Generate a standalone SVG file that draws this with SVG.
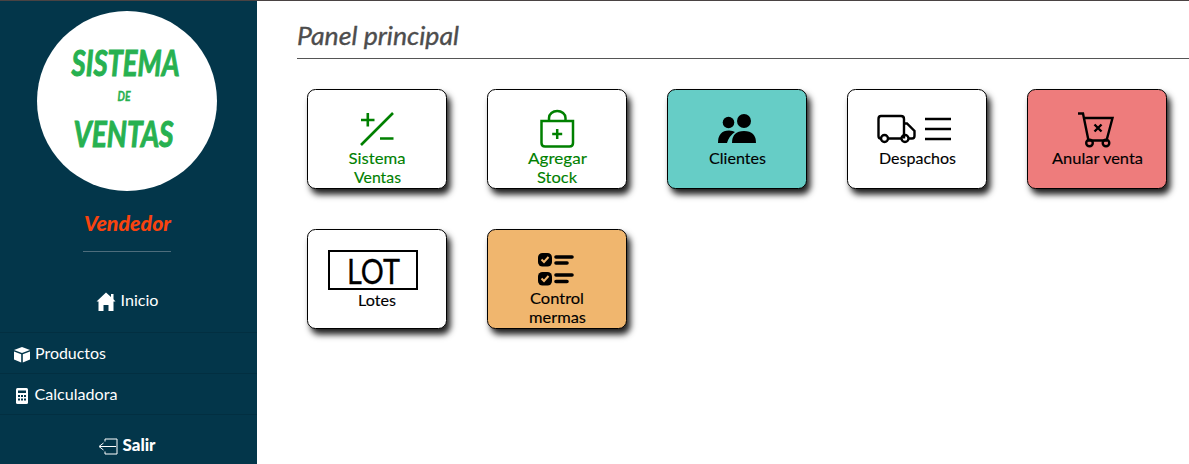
<svg xmlns="http://www.w3.org/2000/svg" width="1189" height="464" viewBox="0 0 1189 464">
<style>
text{font-family:Lato,"Open Sans","Liberation Sans",sans-serif}
.nav{font-size:16px;fill:#fff}
.lab{font-size:16px;text-anchor:middle;fill:#000;stroke:#000;stroke-width:.12;paint-order:stroke}
.g{fill:#008000;stroke:#008000}
.btn{stroke:#000;stroke-width:1}
.logo{font-weight:700;font-style:italic;fill:#27b150;stroke:#27b150;stroke-width:1;text-anchor:middle}
.ln{fill:none;stroke:#000;stroke-width:2.4}
.sep{fill:none;stroke:#022f41;stroke-width:1}
</style>
<defs>
<filter id="sh" x="-20%" y="-20%" width="150%" height="150%"><feDropShadow dx="3.500" dy="5.500" stdDeviation="3.100" flood-color="#000" flood-opacity="0.88"/></filter>
</defs>
<rect width="1189" height="464" fill="#fff"/>
<rect id="sidebar" x="0" y="0" width="257" height="464" fill="#03364a"/>
<rect id="topbar" x="0" y="0" width="1189" height="1" fill="#4a4343"/>
<g id="logo">
<circle cx="127" cy="101" r="90" fill="#fff"/>
<text class="logo" x="125.500" y="75.500" font-size="37" textLength="108" lengthAdjust="spacingAndGlyphs">SISTEMA</text>
<text class="logo" x="124" y="101" font-size="13" textLength="13" lengthAdjust="spacingAndGlyphs" style="stroke-width:.4">DE</text>
<text class="logo" x="123.500" y="147" font-size="37" textLength="100" lengthAdjust="spacingAndGlyphs">VENTAS</text>
</g>
<text id="role" x="127.500" y="231" font-size="20" font-weight="900" font-style="italic" fill="#f9430e" text-anchor="middle" textLength="87" lengthAdjust="spacingAndGlyphs">Vendedor</text>
<rect x="83" y="251" width="88" height="1" fill="#4e6d7c"/>
<g id="nav-inicio">
<path d="M106 292.500 L111 297 V294 H113.500 V299.200 L115.500 301.500 H113.500 V311 H108.500 V305 H103.500 V311 H98.500 V301.500 H96.500 Z" fill="#fff"/>
<text class="nav" x="120.500" y="306" textLength="38" lengthAdjust="spacingAndGlyphs">Inicio</text>
</g>
<g id="nav-productos">
<path class="sep" d="M0 332.500 H257 M0 373.500 H257 M0 414.500 H257"/>
<path d="M22 347 L30 350 L22 353 L14 350 Z" fill="#fff"/>
<path d="M14 351.500 L21.200 354.200 V362.500 L14 359.500 Z M30 351.500 L22.800 354.200 V362.500 L30 359.500 Z" fill="#fff"/>
<text class="nav" x="35" y="359" textLength="71" lengthAdjust="spacingAndGlyphs">Productos</text>
</g>
<g id="nav-calculadora">
<rect x="16" y="388" width="12" height="16" rx="1.500" fill="#fff"/>
<path d="M18 390.500h8v2.500h-8z M18 395h2v2h-2z M21 395h2v2h-2z M24 395h2v2h-2z M18 398.500h2v2h-2z M21 398.500h2v2h-2z M24 398.500h2v2h-2z" fill="#03364a"/>
<text class="nav" x="34.500" y="400" textLength="83" lengthAdjust="spacingAndGlyphs">Calculadora</text>
</g>
<g id="nav-salir">
<path d="M105 441.500 V439 H117 V454 H105 V451.500 M116 446.500 H100 M103.500 443 L99 446.500 L103.500 450" fill="none" stroke="#fff" stroke-width="1"/>
<text x="122.500" y="451" font-size="16" font-weight="900" fill="#fff" textLength="33" lengthAdjust="spacingAndGlyphs">Salir</text>
</g>
<g id="header">
<text x="297" y="45" font-size="25.500" font-style="italic" fill="#4d4d4d" stroke="#4d4d4d" stroke-width=".35" textLength="162" lengthAdjust="spacingAndGlyphs">Panel principal</text>
<rect x="297" y="58" width="892" height="1" fill="#555"/>
</g>
<g id="btn-sistema">
<rect class="btn" x="307.500" y="89.500" width="139" height="99" rx="8" fill="#fff" filter="url(#sh)"/>
<path d="M393 113 L361 145 M361 120 H374.500 M367.800 113 V126.500 M380 138.500 H393.500" fill="none" stroke="#008000" stroke-width="2.600"/>
<text class="lab g" x="377" y="164" textLength="57" lengthAdjust="spacingAndGlyphs">Sistema</text>
<text class="lab g" x="377.500" y="183" textLength="47" lengthAdjust="spacingAndGlyphs">Ventas</text>
</g>
<g id="btn-stock">
<rect class="btn" x="487.500" y="89.500" width="139" height="99" rx="8" fill="#fff" filter="url(#sh)"/>
<path d="M541.500 121 H573 V143 Q573 146.500 569.500 146.500 H545 Q541.500 146.500 541.500 143 Z M549 120 V118 A8.200 7 0 0 1 565.500 118 V120 M557.200 129 V139 M552.200 134 H562.200" fill="none" stroke="#008000" stroke-width="2.500"/>
<text class="lab g" x="557.500" y="164" textLength="59" lengthAdjust="spacingAndGlyphs">Agregar</text>
<text class="lab g" x="557" y="183" textLength="40" lengthAdjust="spacingAndGlyphs">Stock</text>
</g>
<g id="btn-clientes">
<rect class="btn" x="667.500" y="89.500" width="139" height="99" rx="8" fill="#66cdc6" filter="url(#sh)"/>
<circle cx="728.500" cy="122.500" r="5.800"/>
<circle cx="744" cy="121" r="7"/>
<path d="M718 143 Q718 130.500 729 130.500 Q733 130.500 735 132 Q729 136 727 143 Z M732 143 Q732 131 744 131 Q756 131 756 143 Z"/>
<text class="lab" x="737.500" y="164" textLength="57" lengthAdjust="spacingAndGlyphs">Clientes</text>
</g>
<g id="btn-despachos">
<rect class="btn" x="847.500" y="89.500" width="139" height="99" rx="8" fill="#fff" filter="url(#sh)"/>
<path class="ln" d="M880.500 138.500 Q878.500 138.500 878.500 136 V119 Q878.500 116 881 116 H901 Q904 116 904 119 V138.500 M888 138.500 H901.500 M904 123.500 H907 L914.500 131 V136 Q914.500 138.500 912 138.500 H908.500"/>
<circle class="ln" cx="884.500" cy="138.500" r="3.500"/>
<circle class="ln" cx="905" cy="138.500" r="3.500"/>
<path class="ln" d="M925 119 H951 M925 129 H951 M925 139 H951"/>
<text class="lab" x="917.500" y="164" textLength="77" lengthAdjust="spacingAndGlyphs">Despachos</text>
</g>
<g id="btn-anular">
<rect class="btn" x="1027.500" y="89.500" width="139" height="99" rx="8" fill="#ee7b7b" filter="url(#sh)"/>
<path class="ln" d="M1078 113.500 H1083 L1088.500 140.500 H1106.500 L1112.500 118 H1085 M1094.500 124.500 L1101.500 131.500 M1101.500 124.500 L1094.500 131.500"/>
<circle class="ln" cx="1089.500" cy="143" r="3.300"/>
<circle class="ln" cx="1106" cy="143" r="3.300"/>
<text class="lab" x="1097.500" y="164" textLength="91" lengthAdjust="spacingAndGlyphs">Anular venta</text>
</g>
<g id="btn-lotes">
<rect class="btn" x="307.500" y="229.500" width="139" height="99" rx="8" fill="#fff" filter="url(#sh)"/>
<rect x="329" y="251" width="88" height="38" fill="none" stroke="#000" stroke-width="2"/>
<text x="373.500" y="284" font-size="35" fill="#000" stroke="#000" stroke-width=".3" text-anchor="middle" textLength="53" lengthAdjust="spacingAndGlyphs">LOT</text>
<text class="lab" x="377" y="306" textLength="38" lengthAdjust="spacingAndGlyphs">Lotes</text>
</g>
<g id="btn-mermas">
<rect class="btn" x="487.500" y="229.500" width="139" height="99" rx="8" fill="#f0b66e" filter="url(#sh)"/>
<rect x="538" y="253" width="14" height="13.500" rx="4.500"/>
<rect x="538" y="272" width="14" height="13.500" rx="4.500"/>
<path d="M541.500 259.500 L544 262 L548.500 257 M541.500 278.500 L544 281 L548.500 276" fill="none" stroke="#f0b66e" stroke-width="2"/>
<path d="M556 257 H572 M556 263 H567 M556 275 H572 M556 281.500 H567" fill="none" stroke="#000" stroke-width="3.600" stroke-linecap="round"/>
<text class="lab" x="557" y="304" textLength="54" lengthAdjust="spacingAndGlyphs">Control</text>
<text class="lab" x="557.500" y="323" textLength="57" lengthAdjust="spacingAndGlyphs">mermas</text>
</g>
</svg>
